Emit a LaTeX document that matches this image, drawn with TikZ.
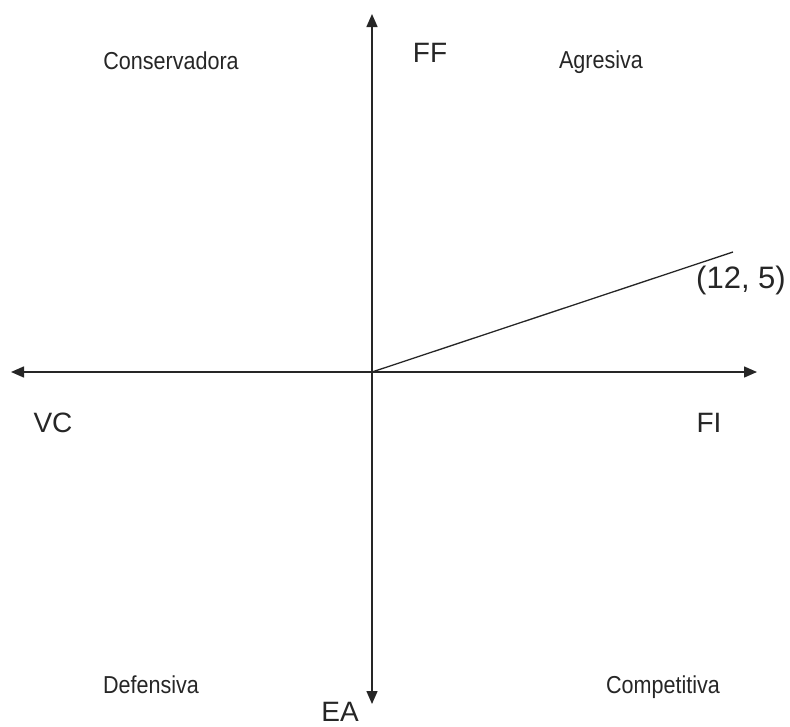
\documentclass[tikz,border=0pt]{standalone}
\usepackage{fontspec}
\setmainfont{Liberation Sans}
\newfontfamily\narrowfont[FakeStretch=0.88]{Liberation Sans}
\usetikzlibrary{arrows.meta}
\begin{document}
\begin{tikzpicture}[x=1pt,y=-1pt,
  axis/.style={line width=1.5pt,draw=black!85,-{Triangle[length=13pt,width=11pt]}},
  quad/.style={anchor=base,inner sep=0pt,font=\narrowfont\fontsize{24.5}{28}\selectfont,text=black!85},
  biglbl/.style={anchor=base,inner sep=0pt,font=\fontsize{28}{32}\selectfont,text=black!85}]
\useasboundingbox (0,0) rectangle (790,726);
\coordinate (O) at (372,372);
\coordinate (top) at (372,14);
\coordinate (bot) at (372,704);
\coordinate (left) at (11,372);
\coordinate (right) at (757,372);
\coordinate (P) at (733,252);
\draw[axis] (O) -- (top);
\draw[axis] (O) -- (bot);
\draw[axis] (O) -- (left);
\draw[axis] (O) -- (right);
\draw[line width=1.3pt,draw=black!85] (O) -- (P);
\node[quad] (cons) at (171,69) {Conservadora};
\node[quad] (agr) at (601,68) {Agresiva};
\node[quad] (def) at (151,693) {Defensiva};
\node[quad] (comp) at (663,693) {Competitiva};
\node[biglbl] (ff) at (430,62) {FF};
\node[biglbl] (vc) at (53,432) {VC};
\node[biglbl] (fi) at (709,432) {FI};
\node[biglbl] (ea) at (340,721) {EA};
\node[biglbl,font=\fontsize{31}{35}\selectfont] (pt) at (741,288) {(12, 5)};
\end{tikzpicture}
\end{document}
